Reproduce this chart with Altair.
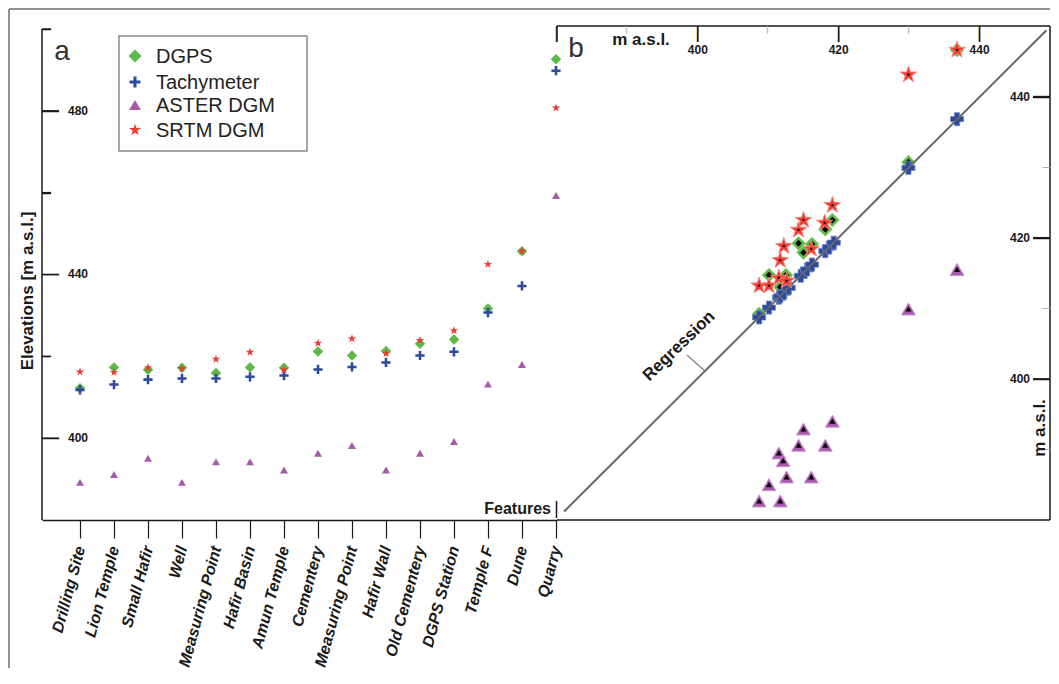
import altair as alt
import pandas as pd

FONT = "Liberation Sans"

# ---------------- Panel a data ----------------
features = ["Drilling Site", "Lion Temple", "Small Hafir", "Well", "Measuring Point",
            "Hafir Basin", "Amun Temple", "Cementery", "Measuring Point", "Hafir Wall",
            "Old Cementery", "DGPS Station", "Temple F", "Dune", "Quarry"]
dgps_a = [412.2, 417.3, 416.7, 417.2, 415.9, 417.3, 417.2, 421.2, 420.2, 421.3, 423.1, 424.1, 431.7, 445.7, 492.6]
tachy_a = [411.8, 413.1, 414.3, 414.6, 414.6, 415.0, 415.3, 416.8, 417.4, 418.5, 420.2, 421.1, 430.7, 437.2, 489.8]
aster_a = [389.2, 391.1, 395.1, 389.2, 394.2, 394.2, 392.2, 396.3, 398.2, 392.2, 396.3, 399.2, 413.2, 418.0, 459.3]
srtm_a = [416.2, 416.1, 417.2, 417.0, 419.3, 421.0, 416.7, 423.2, 424.3, 420.7, 423.9, 426.3, 442.5, 445.7, 480.7]
a_major_ticks = [400, 440, 480]
a_minor_ticks = [420, 460, 500]

# ---------------- Panel b data ----------------
b_tachy = [408.7, 410.1, 411.5, 411.7, 412.2, 412.9, 414.6, 415.5, 416.2, 418.1, 418.6, 419.3, 429.9, 436.8]
b_dgps_x = [408.7, 410.1, 411.7, 412.5, 414.3, 415.0, 416.2, 418.1, 419.1, 429.9, 436.8]
b_dgps_y = [409.2, 414.7, 413.0, 414.7, 419.2, 417.9, 419.1, 421.2, 422.5, 430.7, 446.6]
b_srtm_x = [408.7, 410.1, 411.5, 411.7, 412.2, 412.6, 414.3, 415.0, 416.1, 418.0, 419.1, 429.9, 436.8]
b_srtm_y = [413.2, 413.2, 414.3, 416.8, 418.8, 413.9, 421.1, 422.5, 418.4, 422.1, 424.6, 443.1, 446.6]
b_aster_x = [408.7, 411.7, 410.1, 412.6, 416.1, 411.5, 412.1, 414.3, 418.1, 415.0, 419.1, 429.9, 436.8]
b_aster_y = [382.7, 382.7, 385.0, 386.1, 386.1, 389.5, 388.4, 390.6, 390.6, 392.9, 394.0, 409.9, 415.5]
reg_x = [381.0, 449.5]
reg_y = [381.2, 449.4]
b_major_ticks = [380, 400, 420, 440]
b_minor_ticks = [390, 410, 430]

series = ["DGPS", "Tachymeter", "ASTER DGM", "SRTM DGM"]
colors = ["#5CB947", "#2D4A9C", "#A55BAA", "#EE3B30"]
halo = ["#8FD57E", "#6F88C6", "#C98FCC", "#F7857E"]

STAR = ("M0,-1L0.2245,-0.309L0.951,-0.309L0.363,0.118L0.588,0.809L0,0.382"
        "L-0.588,0.809L-0.363,0.118L-0.951,-0.309L-0.2245,-0.309Z")
PLUS = "M-1,-0.28H-0.28V-1H0.28V-0.28H1V0.28H0.28V1H-0.28V0.28H-1Z"

WA, HA = 515, 494
WB, HB = 493, 494
INK = "#1a1a1a"
MINOR = "#b0b0b0"
EM, EN = "\u2014", "\u2013"

one = pd.DataFrame({"k": [0]})

XA0, XA1 = -1.1176, 14.03
YA0, YA1 = 380, 500.73
xa = alt.Scale(domain=[XA0, XA1], nice=False, zero=False)
ya = alt.Scale(domain=[YA0, YA1], nice=False, zero=False)
xb = alt.Scale(domain=[380, 450], nice=False, zero=False)
yb = alt.Scale(domain=[380, 450], nice=False, zero=False)


def text(t, x, y, size, weight="normal", align="center", baseline="middle",
         angle=0, color=INK, style="normal"):
    return alt.Chart(pd.DataFrame({"t": [t]})).mark_text(
        align=align, baseline=baseline, angle=angle, fontSize=size,
        fontWeight=weight, font=FONT, color=color, fontStyle=style
    ).encode(x=alt.value(x), y=alt.value(y), text="t:N")


def seg(x1, y1, x2, y2, color=INK, w=1.5):
    return alt.Chart(one).mark_rule(color=color, strokeWidth=w).encode(
        x=alt.value(x1), x2=alt.value(x2), y=alt.value(y1), y2=alt.value(y2))


def dash_h(vals, yscale, x, align, glyph, size, color=INK):
    # horizontal tick drawn as a dash glyph, positioned through the y scale
    df = pd.DataFrame({"v": vals, "t": [glyph] * len(vals)})
    return alt.Chart(df).mark_text(align=align, baseline="middle", fontSize=size,
                                   font=FONT, color=color).encode(
        x=alt.value(x), y=alt.Y("v:Q", scale=yscale, axis=None), text="t:N")


def dash_v(vals, xscale, y, glyph, size, color=INK):
    # vertical tick (dash glyph turned 90 degrees) positioned through the x scale
    df = pd.DataFrame({"v": vals, "t": [glyph] * len(vals)})
    return alt.Chart(df).mark_text(align="left", baseline="middle", angle=90,
                                   fontSize=size, font=FONT, color=color).encode(
        y=alt.value(y), x=alt.X("v:Q", scale=xscale, axis=None), text="t:N")


def hticks(vals, yscale, x1, x2, color=INK):
    out = []
    for v in vals:
        df = pd.DataFrame({"v": [v], "v2": [v]})
        out.append(alt.Chart(df).mark_rule(color=color, strokeWidth=1.5).encode(
            x=alt.value(x1), x2=alt.value(x2),
            y=alt.Y("v:Q", scale=yscale, axis=None), y2="v2:Q"))
    return out


def vticks(vals, xscale, y1, y2, color=INK):
    out = []
    for v in vals:
        df = pd.DataFrame({"v": [v], "v2": [v]})
        out.append(alt.Chart(df).mark_rule(color=color, strokeWidth=1.5).encode(
            y=alt.value(y1), y2=alt.value(y2),
            x=alt.X("v:Q", scale=xscale, axis=None), x2="v2:Q"))
    return out


label_expr = "[" + ",".join("'%s'" % f for f in features) + "][datum.value]"
xaxis = alt.Axis(values=list(range(len(features))), labelExpr=label_expr,
                 labelAngle=285, labelAlign="right", labelBaseline="middle",
                 labelPadding=8, labelFontSize=16, labelFontWeight="bold",
                 labelFontStyle="italic", labelFont=FONT, labelColor=INK,
                 labelOverlap=False, labelBound=False, labelFlush=False,
                 tickSize=18, tickColor=INK, tickWidth=1.2,
                 domainColor=INK, domainWidth=1.5, grid=False, title=None)


# ================= Panel a =================
def pts_a(vals, shape, color, size):
    df = pd.DataFrame({"i": list(range(len(vals))), "v": vals})
    return alt.Chart(df).mark_point(shape=shape, filled=True, fill=color,
                                    fillOpacity=1, opacity=1, size=size,
                                    strokeWidth=0).encode(
        x=alt.X("i:Q", scale=xa, axis=xaxis),
        y=alt.Y("v:Q", scale=ya, axis=None))


a_layers = []
a_layers.append(seg(-33, -17, WA + WB, -17, color="#6b6b6b"))
a_layers.append(seg(-33, -17, -33, 642, color="#6b6b6b"))
a_layers.append(alt.Chart(pd.DataFrame({"v": [380], "v2": [500]})).mark_rule(
    color=INK, strokeWidth=1.5).encode(
    x=alt.value(0), y=alt.Y("v:Q", scale=ya, axis=None), y2="v2:Q"))
a_layers += hticks(a_major_ticks, ya, 0, 17)
a_layers += hticks(a_minor_ticks, ya, 0, 9)
a_layers.append(dash_h(a_major_ticks, ya, 0, "left", EM, 17))
a_layers.append(dash_h(a_minor_ticks, ya, 0, "left", EN, 16))
a_layers.append(alt.Chart(pd.DataFrame({"v": a_major_ticks,
                                        "l": [str(v) for v in a_major_ticks]})).mark_text(
    align="left", baseline="middle", fontSize=12, fontWeight="bold", font=FONT,
    color=INK).encode(x=alt.value(26), y=alt.Y("v:Q", scale=ya, axis=None), text="l:N"))
a_layers.append(text("Elevations [m a.s.l.]", -14, 265, 17, weight="bold", angle=270))
a_layers.append(text("a", 20, 26, 28, color="#333"))
a_layers.append(text("Features", 509, 483, 16, weight="bold", align="right"))
a_layers.append(seg(514.5, 475, 514.5, 492, w=1.5))

a_layers.append(pts_a(aster_a, "triangle-up", colors[2], 64))
a_layers.append(pts_a(dgps_a, "diamond", colors[0], 110))
a_layers.append(pts_a(tachy_a, PLUS, colors[1], 85))
a_layers.append(pts_a(srtm_a, STAR, colors[3], 80))

a_layers.append(alt.Chart(one).mark_rect(fill="white", stroke="#8a8a8a",
                                         strokeWidth=1.5).encode(
    x=alt.value(77), x2=alt.value(265), y=alt.value(10), y2=alt.value(125)))
leg_shapes = ["diamond", PLUS, "triangle-up", STAR]
leg_sizes = [169, 121, 140, 160]
leg_rows = [30, 56, 79, 104]
for nm, shp, sz, col, ry in zip(series, leg_shapes, leg_sizes, colors, leg_rows):
    a_layers.append(alt.Chart(one).mark_point(shape=shp, filled=True, fill=col,
                                              fillOpacity=1, opacity=1, size=sz,
                                              strokeWidth=0).encode(
        x=alt.value(93), y=alt.value(ry)))
    a_layers.append(text(nm, 114, ry + 1, 20, align="left", color="#222"))

panel_a = alt.layer(*a_layers).properties(width=WA, height=HA)


# ================= Panel b =================
def pts_b(xs, ys, shape, fill, size, stroke=None, sw=0):
    df = pd.DataFrame({"x": xs, "y": ys})
    kw = dict(shape=shape, filled=True, fill=fill, fillOpacity=1, opacity=1, size=size)
    if stroke:
        kw.update(stroke=stroke, strokeWidth=sw, strokeOpacity=1)
    else:
        kw.update(strokeWidth=0)
    return alt.Chart(df).mark_point(**kw).encode(
        x=alt.X("x:Q", scale=xb, axis=None),
        y=alt.Y("y:Q", scale=yb, axis=None))


b_labels = b_major_ticks[1:]
b_layers = []
b_layers.append(seg(0, 0, WB, 0))
b_layers.append(seg(WB, 0, WB, HB))
b_layers.append(seg(0, HB, WB, HB))
b_layers += vticks(b_major_ticks, xb, 0, 16)
b_layers += hticks(b_labels, yb, WB - 17, WB)
b_layers.append(dash_v(b_major_ticks, xb, 0, EM, 16))
b_layers.append(dash_v(b_minor_ticks, xb, 0, EN, 14, color=MINOR))
b_layers.append(dash_h(b_labels, yb, WB, "right", EM, 17))
b_layers.append(dash_h(b_minor_ticks, yb, WB, "right", EN, 14, color=MINOR))
b_layers.append(alt.Chart(pd.DataFrame({"v": b_labels,
                                        "l": [str(v) for v in b_labels]})).mark_text(
    align="center", baseline="middle", fontSize=12, fontWeight="bold", font=FONT,
    color=INK).encode(x=alt.X("v:Q", scale=xb, axis=None), y=alt.value(24), text="l:N"))
b_layers.append(alt.Chart(pd.DataFrame({"v": b_labels,
                                        "l": [str(v) for v in b_labels]})).mark_text(
    align="right", baseline="middle", fontSize=12, fontWeight="bold", font=FONT,
    color=INK).encode(x=alt.value(WB - 20), y=alt.Y("v:Q", scale=yb, axis=None), text="l:N"))
b_layers.append(text("m a.s.l.", 84, 14, 17, weight="bold"))
b_layers.append(text("m a.s.l.", WB - 10, 402, 17, weight="bold", angle=270))
b_layers.append(text("b", 19, 23, 28, color="#333"))
b_layers.append(text("Regression", 122, 320, 17, weight="bold", angle=316))
b_layers.append(seg(130, 329, 148, 345, color="#8c8c8c", w=1.5))

b_layers.append(pts_b(b_dgps_x, b_dgps_y, "diamond", colors[0], 190, stroke=halo[0], sw=1))
b_layers.append(pts_b(b_dgps_x, b_dgps_y, "diamond", "#000", 45))
b_layers.append(pts_b(b_tachy, b_tachy, "cross", colors[1], 170, stroke=halo[1], sw=0.8))
b_layers.append(alt.Chart(pd.DataFrame({"x": reg_x, "y": reg_y})).mark_line(
    color="#666666", strokeWidth=2).encode(
    x=alt.X("x:Q", scale=xb, axis=None), y=alt.Y("y:Q", scale=yb, axis=None)))
b_layers.append(pts_b(b_srtm_x, b_srtm_y, STAR, colors[3], 300, stroke=halo[3], sw=1))
b_layers.append(pts_b(b_srtm_x, b_srtm_y, "circle", "#000", 5))
b_layers.append(pts_b(b_aster_x, b_aster_y, "triangle-up", colors[2], 190, stroke=halo[2], sw=1))
b_layers.append(pts_b(b_aster_x, b_aster_y, "triangle-up", "#000", 36))

panel_b = alt.layer(*b_layers).properties(width=WB, height=HB)

chart = alt.hconcat(panel_a, panel_b, spacing=0, bounds="flush", padding=0,
                    background="white").configure_view(stroke=None)

chart.save("out.html", embed_options={"renderer": "svg", "actions": False})
